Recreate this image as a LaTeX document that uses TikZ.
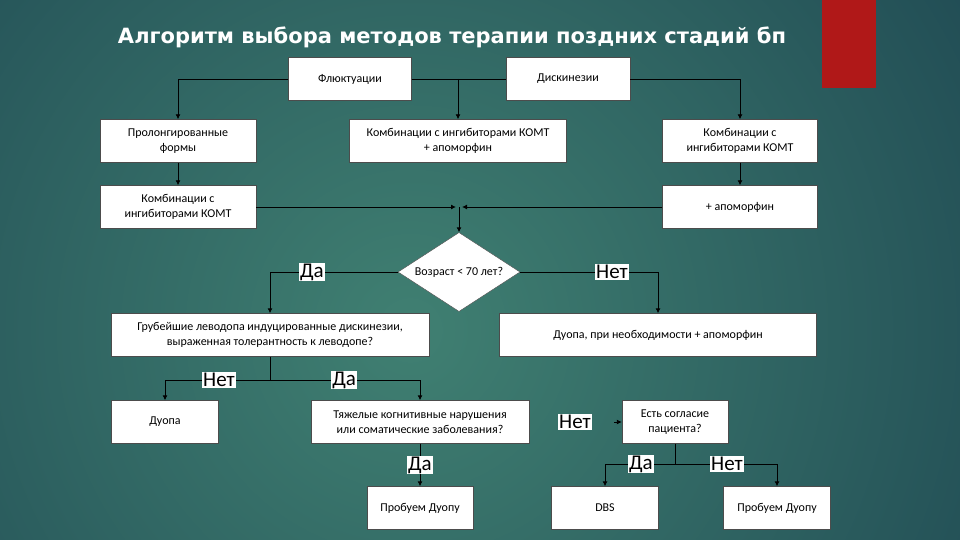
\documentclass[tikz,border=0pt]{standalone}
\usepackage{fontspec}
\setmainfont{Carlito}
\newfontfamily\titlefont{DejaVu Sans}
\usetikzlibrary{shapes.geometric,arrows.meta}

\definecolor{bgdark}{RGB}{22,58,74}
\definecolor{bglight}{RGB}{64,128,114}
\definecolor{slidered}{RGB}{176,24,24}

\tikzset{
  box/.style={draw=black!70, fill=white, minimum height=43pt, align=center,
    inner sep=2pt, font=\fontsize{12}{15}\selectfont},
  lbl/.style={fill=white, inner sep=1pt, font=\fontsize{21}{23}\selectfont},
  link/.style={draw=black, line width=0.9pt},
  arr/.style={link, -{Latex[length=5pt,width=5pt]}}
}

\begin{document}
\begin{tikzpicture}[x=1pt,y=-1pt]
    \useasboundingbox (0,0) rectangle (960,540);
    % background
    \begin{scope}
        \clip (0,0) rectangle (960,540);
        \fill[bgdark] (0,0) rectangle (960,540);
        \shade[inner color=bglight, outer color=bgdark] (410,330) circle (900pt);
    \end{scope}
    \fill[slidered] (822,0) rectangle (876,88);
    \node[text=white, font=\titlefont\bfseries\fontsize{21}{24}\selectfont] (title) at (452,37)
        {Алгоритм выбора методов терапии поздних стадий бп};

    % boxes
    \node[box, minimum width=123pt] (fluct) at (350,79) {Флюктуации};
    \node[box, minimum width=124pt] (dysk) at (568,79) {Дискинезии};
    \node[box, minimum width=156pt] (prolong) at (178,141) {Пролонгированные\\формы};
    \node[box, minimum width=217pt] (combapo) at (458,141) {Комбинации с ингибиторами КОМТ\\+ апоморфин};
    \node[box, minimum width=155pt] (combR) at (740,141) {Комбинации с\\ингибиторами КОМТ};
    \node[box, minimum width=156pt] (combL) at (178,207) {Комбинации с\\ингибиторами КОМТ};
    \node[box, minimum width=155pt] (apo) at (740,207) {+ апоморфин};
    \node[diamond, aspect=1.55, draw=black!70, fill=white, inner sep=0pt, minimum width=122pt, minimum height=79pt,
        font=\fontsize{12}{14}\selectfont] (age) at (459,272) {Возраст < 70 лет?};
    \node[box, minimum width=318pt] (severe) at (270,335)
        {Грубейшие леводопа индуцированные дискинезии,\\выраженная толерантность к леводопе?};
    \node[box, minimum width=317pt] (duoapo) at (658,335) {Дуопа, при необходимости + апоморфин};
    \node[box, minimum width=107pt] (duopa) at (165,422) {Дуопа};
    \node[box, minimum width=218pt] (cogn) at (420,422) {Тяжелые когнитивные нарушения\\или соматические заболевания?};
    \node[box, minimum width=106pt] (consent) at (675,422) {Есть согласие\\пациента?};
    \node[box, minimum width=106pt] (tryL) at (420,508) {Пробуем Дуопу};
    \node[box, minimum width=107pt] (dbs) at (605,508) {DBS};
    \node[box, minimum width=107pt] (tryR) at (777,508) {Пробуем Дуопу};

    % connectors
    \coordinate (topmid) at (458,79);
    \coordinate (merge) at (459,207);
    \coordinate (split1) at (270,380);
    \coordinate (split2) at (675,464);
    \draw[arr] (fluct.west) -| (prolong.north);
    \draw[link] (fluct.east) -- (dysk.west);
    \draw[arr] (topmid) -- (combapo.north);
    \draw[arr] (dysk.east) -| (combR.north);
    \draw[arr] (prolong) -- (combL);
    \draw[arr] (combR) -- (apo);
    \draw[arr, shorten >=3pt] (combL.east) -- (merge);
    \draw[arr, shorten >=3pt] (apo.west) -- (merge);
    \draw[arr] (merge) -- (age.north);
    \draw[arr] (age.west) -| (severe.north) node[lbl, pos=0.336] {Да};
    \draw[arr] (age.east) -| (duoapo.north) node[lbl, pos=0.333] {Нет};
    \draw[link] (severe.south) -- (split1);
    \draw[arr] (split1) -| (duopa.north) node[lbl, pos=0.243] {Нет};
    \draw[arr] (split1) -| (cogn.north) node[lbl, pos=0.247] {Да};
    \draw[arr] (cogn) -- (tryL) node[lbl, midway] {Да};
    \node[lbl] (no3) at (575,422) {Нет};
    \draw[arr, shorten <=22pt] (no3.east) -- (consent.west);
    \draw[link] (consent.south) -- (split2);
    \draw[arr] (split2) -| (dbs.north) node[lbl, pos=0.243] {Да};
    \draw[arr] (split2) -| (tryR.north) node[lbl, pos=0.255] {Нет};
\end{tikzpicture}
\end{document}
